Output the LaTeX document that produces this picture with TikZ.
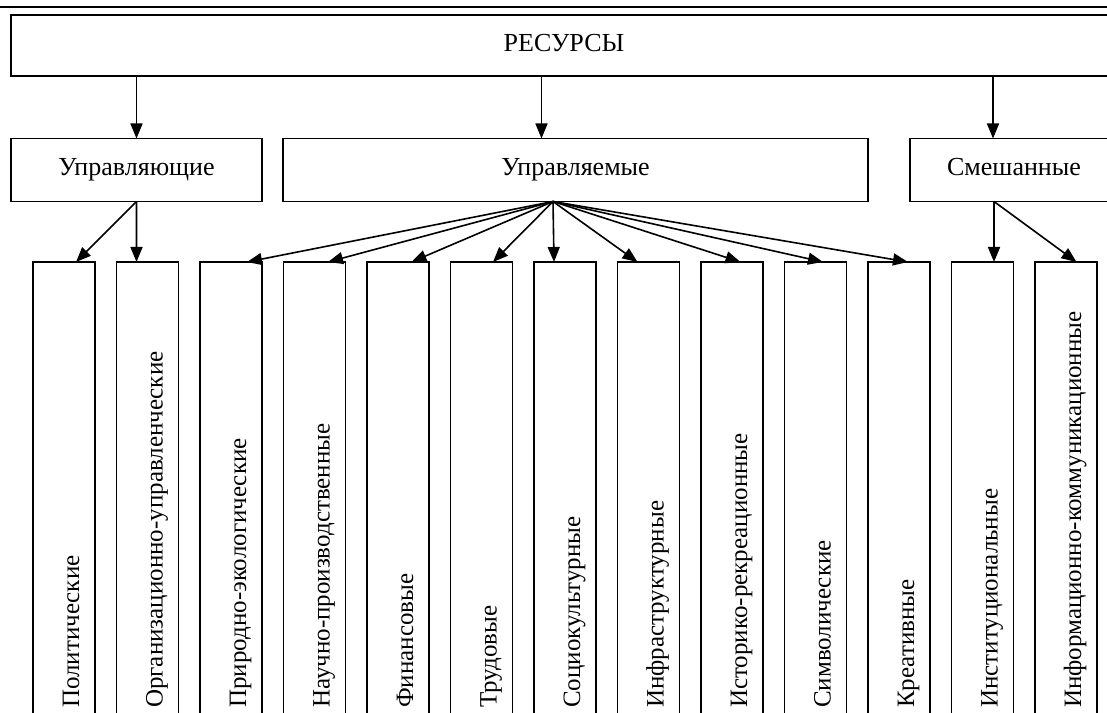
\documentclass[tikz,border=0pt]{standalone}
\usepackage{fontspec}
\setmainfont{Liberation Serif}
\usetikzlibrary{arrows.meta}
\tikzset{
  box/.style={draw, line width=1.7bp, inner sep=0pt, outer sep=0pt,
    text height=18bp, text depth=6bp,
    font=\fontsize{26bp}{30bp}\selectfont},
  leaf/.style={draw, line width=1.7bp, inner sep=0pt, outer sep=0pt,
    minimum width=62bp, minimum height=463bp},
  vtext/.style={rotate=90, anchor=base west, inner sep=0pt,
    font=\fontsize{25bp}{30bp}\selectfont},
  arr/.style={line width=1.6bp, -{Triangle[length=15bp,width=12bp]}},
}
\begin{document}
\begin{tikzpicture}[x=1bp,y=-1bp]
\useasboundingbox (0,0) rectangle (1107,713);
\clip (0,0) rectangle (1107,713);
\fill[white] (0,0) rectangle (1107,713);
% top rule
\coordinate (rl) at (0,7);
\coordinate (rr) at (1107,7);
\draw[line width=2bp] (rl) -- (rr);
% top level
\node[box, minimum width=1106bp, minimum height=61bp] (res) at (564,45.5) {РЕСУРСЫ};
% second level
\node[box, minimum width=251bp, minimum height=63bp] (ctrl) at (136.5,170) {Управляющие};
\node[box, minimum width=585bp, minimum height=63bp] (man) at (575.5,170) {Управляемые};
\node[box, minimum width=208bp, minimum height=63bp] (mix) at (1014,170) {Смешанные};
% arrows from top
\draw[arr] (ctrl.north |- res.south) -- (ctrl.north);
\draw[arr] ([xshift=-34bp]man.north |- res.south) -- ([xshift=-34bp]man.north);
\draw[arr] ([xshift=-21bp]mix.north |- res.south) -- ([xshift=-21bp]mix.north);
% leaves
\foreach \i/\t in {1/Политические,2/Организационно-управленческие,3/Природно-экологические,
  4/Научно-производственные,5/Финансовые,6/Трудовые,7/Социокультурные,
  8/Инфраструктурные,9/Историко-рекреационные,10/Символические,11/Креативные,
  12/Институциональные,13/Информационно-коммуникационные}{
  \pgfmathsetmacro\cx{64+83.5*(\i-1)}
  \node[leaf] (b\i) at (\cx,493.5) {};
  \node[vtext] (t\i) at (\cx+15,708) {\t};
}
% arrows from Управляющие
\draw[arr] (ctrl.south) -- ([xshift=12bp]b1.north);
\draw[arr] (ctrl.south) -- ([xshift=-11bp]b2.north);
% arrows from Управляемые
\foreach \j/\s in {3/16,4/13.5,5/13.5,6/11.5,7/-11,8/-11,9/8.5,10/7.5,11/9}{
  \draw[arr] ([xshift=-22.5bp]man.south) -- ([xshift=\s bp]b\j.north);
}
% arrows from Смешанные
\draw[arr] ([xshift=-20bp]mix.south) -- ([xshift=11.5bp]b12.north);
\draw[arr] ([xshift=-20bp]mix.south) -- ([xshift=10.5bp]b13.north);
\end{tikzpicture}
\end{document}
